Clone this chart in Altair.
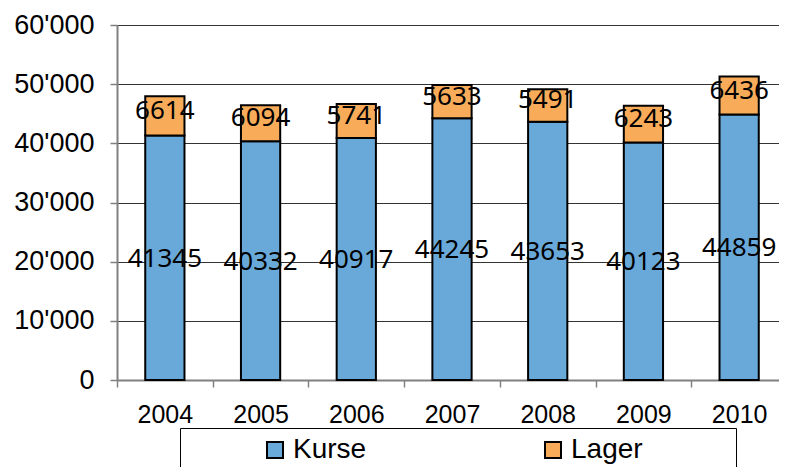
import altair as alt
import pandas as pd

years = ["2004", "2005", "2006", "2007", "2008", "2009", "2010"]
kurse = [41345, 40332, 40917, 44245, 43653, 40123, 44859]
lager = [6614, 6094, 5741, 5633, 5491, 6243, 6436]
series = ["Kurse", "Lager"]
colors = ["#69A9D9", "#F8AC5A"]
y_ticks = [0, 10000, 20000, 30000, 40000, 50000, 60000]

rows = []
for i, yr in enumerate(years):
    rows.append({"Jahr": yr, "Serie": "Kurse", "Wert": kurse[i], "ord": 0})
    rows.append({"Jahr": yr, "Serie": "Lager", "Wert": lager[i], "ord": 1})
df = pd.DataFrame(rows)

x_enc = alt.X(
    "Jahr:N", sort=years, title=None,
    scale=alt.Scale(paddingInner=0, paddingOuter=0),
    axis=alt.Axis(labelAngle=0, tickBand="extent", labelFont="Liberation Sans",
                  labelFontSize=25, labelColor="black", labelPadding=15,
                  tickSize=7, domainColor="#808080", tickColor="#808080",
                  domainWidth=2, tickWidth=1.5, grid=False),
)

y_scale = alt.Scale(domain=[0, 60000], nice=False)

base = alt.Chart(df).transform_stack(
    stack="Wert", groupby=["Jahr"], as_=["y0", "y1"],
    sort=[alt.SortField("ord", order="ascending")],
).transform_calculate(mid="(datum.y0 + datum.y1) / 2")

bars = base.mark_bar(width=alt.RelativeBandSize(0.41), stroke="black", strokeWidth=2).encode(
    x=x_enc,
    y=alt.Y("y0:Q", scale=y_scale, title=None,
            axis=alt.Axis(values=y_ticks,
                          labelExpr="replace(format(datum.value, ','), ',', \"'\")",
                          labelFont="Liberation Sans", labelFontSize=27, labelColor="black",
                          labelPadding=16, tickSize=7, domainColor="#808080",
                          tickColor="#808080", domainWidth=2, tickWidth=1.5,
                          grid=True, gridColor="#333333", gridWidth=1)),
    y2="y1:Q",
    color=alt.Color(
        "Serie:N",
        scale=alt.Scale(domain=series, range=colors),
        legend=alt.Legend(
            title="MMM", titleOrient="right", titleColor="white",
            titleFont="Liberation Sans", titleFontSize=29, titlePadding=12,
            orient="none", legendX=63, legendY=403,
            direction="horizontal", columns=2,
            symbolType="square", symbolSize=256, symbolStrokeColor="black",
            symbolStrokeWidth=2, symbolOffset=73, labelOffset=4,
            columnPadding=99, padding=8, strokeColor="black", fillColor="white",
            labelFont="Liberation Sans", labelFontSize=28, labelColor="black",
        ),
    ),
    order=alt.Order("ord:Q"),
)

text_kurse = base.transform_filter(alt.datum.Serie == "Kurse").mark_text(
    font="Noto Sans", fontSize=26, color="black", baseline="middle", dy=1
).encode(x=alt.X("Jahr:N", sort=years), y=alt.Y("mid:Q", scale=y_scale), text="Wert:Q")

text_lager = base.transform_filter(alt.datum.Serie == "Lager").mark_text(
    font="Noto Sans", fontSize=26, color="black", baseline="middle", dy=-5
).encode(x=alt.X("Jahr:N", sort=years), y=alt.Y("mid:Q", scale=y_scale), text="Wert:Q")

chart = alt.layer(bars, text_kurse, text_lager).properties(
    width=670, height=355,
    autosize=alt.AutoSizeParams(type="none"),
    padding={"left": 109, "top": 17, "right": -8, "bottom": 87},
).configure_view(stroke=None).configure(background="white")

chart.save("out.html", embed_options={"renderer": "svg", "actions": False})
